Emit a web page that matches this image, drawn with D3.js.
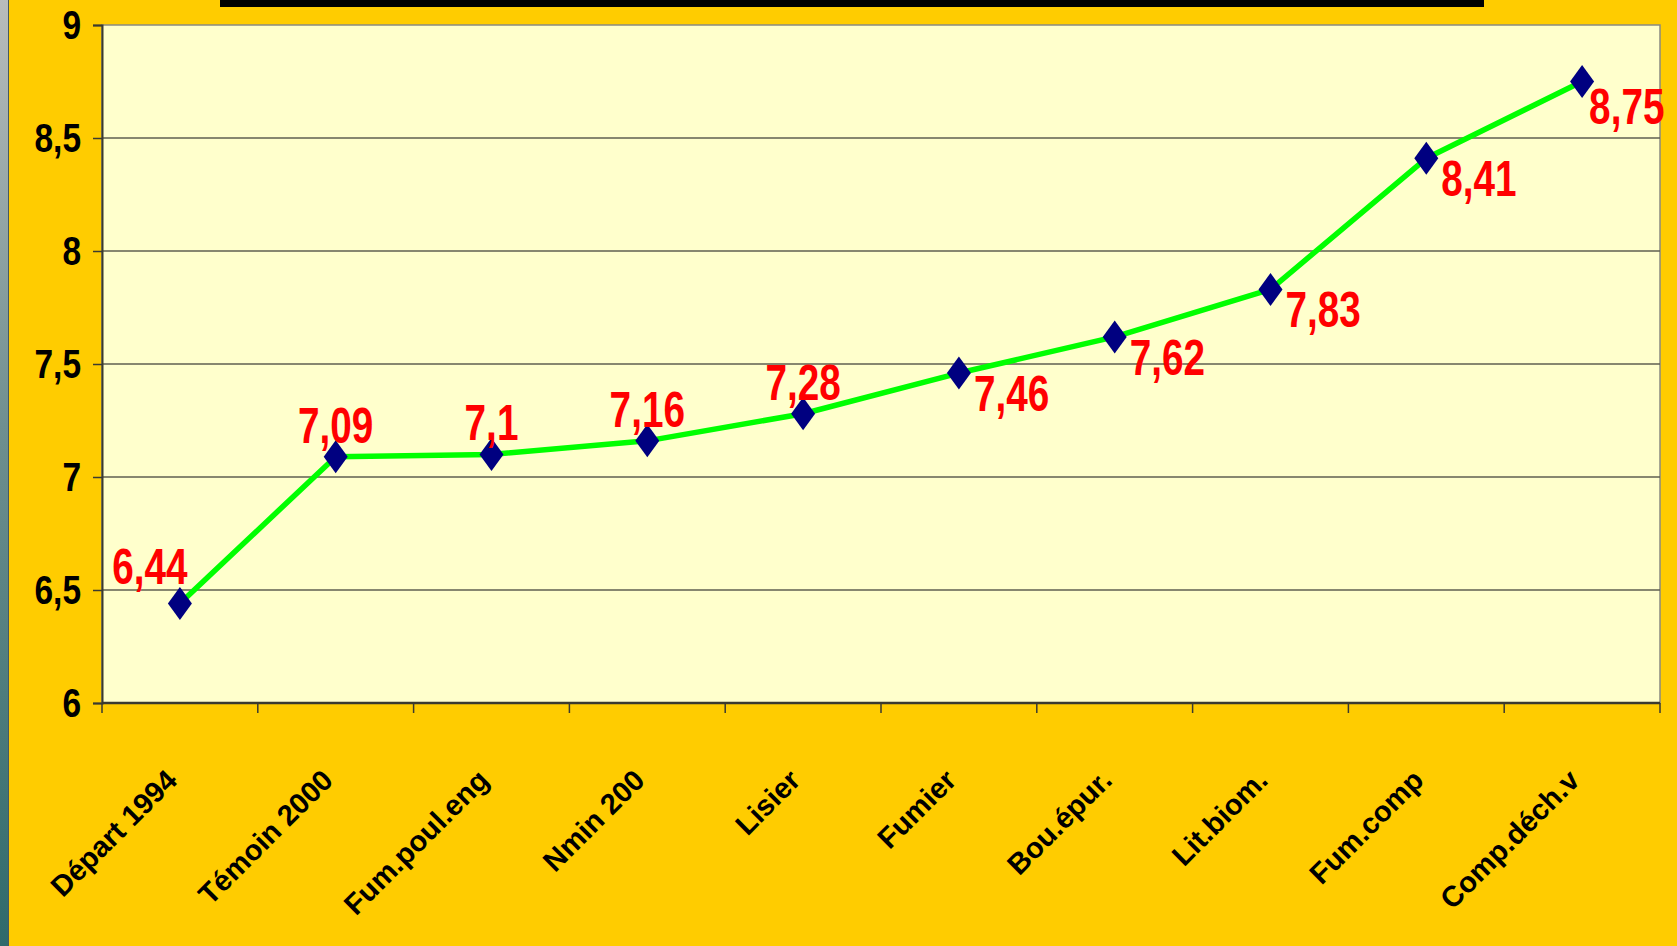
<!DOCTYPE html>
<html>
<head>
<meta charset="utf-8">
<script src="https://cdn.jsdelivr.net/npm/d3@7"></script>
<style>
  html, body { margin: 0; padding: 0; background: #FFCC00; }
  svg { display: block; }
</style>
</head>
<body>
<div id="chart"></div>
<script>
var categories = ["Départ 1994", "Témoin 2000", "Fum.poul.eng", "Nmin 200", "Lisier",
                  "Fumier", "Bou.épur.", "Lit.biom.", "Fum.comp", "Comp.déch.v"]
var values = [6.44, 7.09, 7.1, 7.16, 7.28, 7.46, 7.62, 7.83, 8.41, 8.75]
var valueLabels = ["6,44", "7,09", "7,1", "7,16", "7,28", "7,46", "7,62", "7,83", "8,41", "8,75"]
var yTicks = [6, 6.5, 7, 7.5, 8, 8.5, 9]
var yTickLabels = ["6", "6,5", "7", "7,5", "8", "8,5", "9"]

var W = 1677, H = 946
var margin = {top: 25, right: 17, bottom: 243, left: 102},
    width = W - margin.left - margin.right,
    height = H - margin.top - margin.bottom

var narrow = "'Liberation Sans Narrow', 'Arial Narrow', sans-serif"

var root = d3.select("#chart").append("svg")
    .attr("width", W)
    .attr("height", H)

var defs = root.append("defs")
var grad = defs.append("linearGradient").attr("id", "edge")
    .attr("x1", 0).attr("y1", 0).attr("x2", 0).attr("y2", 1)
grad.append("stop").attr("offset", "0%").attr("stop-color", "#b9bcbc")
grad.append("stop").attr("offset", "45%").attr("stop-color", "#6f8f90")
grad.append("stop").attr("offset", "100%").attr("stop-color", "#2f6a6b")

root.append("rect").attr("width", W).attr("height", H).attr("fill", "#FFCC00")
root.append("rect").attr("width", 8).attr("height", H).attr("fill", "url(#edge)")
root.append("rect").attr("x", 8).attr("width", 1).attr("height", H).attr("fill", "#4a5a5a")
// black title bar at the top
root.append("rect").attr("x", 220).attr("y", 0).attr("width", 1264).attr("height", 7).attr("fill", "#000")

var svg = root.append("g")
    .attr("transform", "translate(" + margin.left + "," + margin.top + ")")

var x = d3.scaleBand().domain(categories).range([0, width])
var y = d3.scaleLinear().domain([6, 9]).range([height, 0])

svg.append("rect")
    .attr("width", width).attr("height", height)
    .attr("fill", "#FFFFCC")
    .attr("stroke", "#8a8a80").attr("stroke-width", 1.5)

// gridlines
svg.selectAll(".grid").data(yTicks.slice(1, -1)).enter().append("line")
    .attr("x1", 0).attr("x2", width)
    .attr("y1", function(d) { return y(d) }).attr("y2", function(d) { return y(d) })
    .attr("stroke", "#5f5f50").attr("stroke-width", 1.5)

// y axis
var yAxis = svg.append("g")
    .call(d3.axisLeft(y).tickValues(yTicks).tickSize(9).tickFormat(""))
yAxis.select(".domain").attr("stroke", "#3a3a30").attr("stroke-width", 2)
yAxis.selectAll(".tick line").attr("stroke", "#3a3a30").attr("stroke-width", 1.5)
yAxis.selectAll(".tick").append("text")
    .attr("transform", "translate(-21,13) scale(0.93,1.15)")
    .attr("text-anchor", "end")
    .attr("font-family", narrow).attr("font-weight", "bold")
    .attr("font-size", 36).attr("fill", "#000")
    .text(function(d) { return yTickLabels[yTicks.indexOf(d)] })

// x axis: ticks on band boundaries
var bounds = categories.map(function(c) { return x(c) }).concat([width])
var xAxis = svg.append("g").attr("transform", "translate(0," + height + ")")
xAxis.append("line").attr("x1", 0).attr("x2", width)
    .attr("stroke", "#3a3a30").attr("stroke-width", 2.5)
xAxis.selectAll(".xt").data(bounds).enter().append("line")
    .attr("x1", function(d) { return d }).attr("x2", function(d) { return d })
    .attr("y1", 0).attr("y2", 10)
    .attr("stroke", "#3a3a30").attr("stroke-width", 1.5)
xAxis.selectAll(".xl").data(categories).enter().append("text")
    .attr("transform", function(d) {
      return "translate(" + (x(d) + x.bandwidth() / 2 - 1) + ",79) rotate(-45)"
    })
    .attr("text-anchor", "end")
    .attr("font-family", "'Liberation Sans', Arial, sans-serif")
    .attr("font-weight", "bold").attr("font-size", 29)
    .attr("fill", "#000")
    .text(function(d) { return d })

// line
var cx = function(d, i) { return x(categories[i]) + x.bandwidth() / 2 }
var line = d3.line().x(cx).y(function(d) { return y(d) })
svg.append("path").datum(values)
    .attr("d", line)
    .attr("fill", "none").attr("stroke", "#00FF00").attr("stroke-width", 5.5)
    .attr("stroke-linejoin", "round")

// diamond markers
svg.selectAll(".pt").data(values).enter().append("path")
    .attr("d", "M0,-16.5L12,0L0,16.5L-12,0Z")
    .attr("transform", function(d, i) { return "translate(" + cx(d, i) + "," + y(d) + ")" })
    .attr("fill", "#000080")

// value labels: first five above the point, the rest below right
svg.selectAll(".lbl").data(values).enter().append("text")
    .attr("transform", function(d, i) {
      var px = cx(d, i), py = y(d), s = " scale(0.88,1.15)"
      if (i === 0) return "translate(" + (px - 30) + "," + (py - 20) + ")" + s
      if (i < 5) return "translate(" + px + "," + (py - 14) + ")" + s
      if (i === values.length - 1) return "translate(" + (px + 7) + "," + (py + 42) + ")" + s
      return "translate(" + (px + 15) + "," + (py + 38) + ")" + s
    })
    .attr("text-anchor", function(d, i) { return i < 5 ? "middle" : "start" })
    .attr("font-family", narrow).attr("font-weight", "bold")
    .attr("font-size", 44).attr("fill", "#FF0000")
    .text(function(d, i) { return valueLabels[i] })
</script>
</body>
</html>
